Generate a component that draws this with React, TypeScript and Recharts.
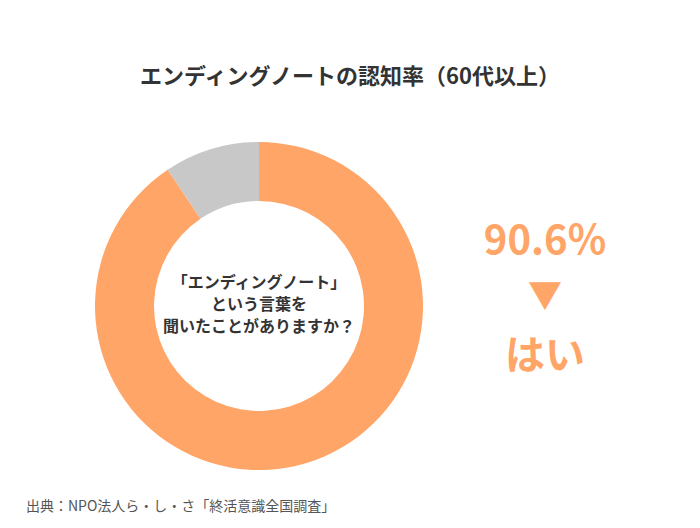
import React from "react";
import { PieChart, Pie, Cell } from "recharts";

const categories = ["はい", "いいえ"];
const values = [90.6, 9.4];
const colors = ["#FFA567", "#C8C8C8"];
const titleText = "エンディングノートの認知率（60代以上）";
const centerLines = ["「エンディングノート」", "という言葉を", "聞いたことがありますか？"];
const sourceText = "出典：NPO法人ら・し・さ「終活意識全国調査」";

const data = categories.map((name, i) => ({ name, value: values[i] }));

const font = "'Noto Sans CJK JP', 'Noto Sans', sans-serif";

export default function App() {
  return (
    <div style={{ position: "absolute", left: 0, top: 0, width: 700, height: 528, background: "#fff", fontFamily: font }}>
      <div style={{ position: "absolute", left: 0, top: 57, width: 700, textAlign: "center", fontSize: 22, fontWeight: 700, color: "#333", lineHeight: "34px" }}>
        {titleText}
      </div>
      <div style={{ position: "absolute", left: 0, top: 0 }}>
        <PieChart width={700} height={528} margin={{ top: 0, right: 0, bottom: 0, left: 0 }}>
          <Pie
            data={data}
            dataKey="value"
            nameKey="name"
            cx={259}
            cy={306}
            innerRadius={105}
            outerRadius={164}
            startAngle={90}
            endAngle={-270}
            stroke="none"
            isAnimationActive={false}
          >
            {data.map((d, i) => (
              <Cell key={d.name} fill={colors[i]} />
            ))}
          </Pie>
        </PieChart>
      </div>
      <div style={{ position: "absolute", left: 109, top: 270, width: 300, textAlign: "center", fontSize: 16, fontWeight: 700, color: "#333", lineHeight: "22px" }}>
        {centerLines.map((l) => (
          <div key={l}>{l}</div>
        ))}
      </div>
      <div style={{ position: "absolute", left: 445, top: 210, width: 200, textAlign: "center", color: colors[0], fontWeight: 700 }}>
        <div style={{ fontSize: 40, lineHeight: "54px" }}>{values[0].toFixed(1)}%</div>
        <div style={{ fontSize: 34, lineHeight: "44px", marginTop: 8 }}>▼</div>
        <div style={{ fontSize: 40, lineHeight: "60px", marginTop: 6 }}>{categories[0]}</div>
      </div>
      <div style={{ position: "absolute", left: 26, top: 494, fontSize: 14, color: "#555", lineHeight: "22px" }}>
        {sourceText}
      </div>
    </div>
  );
}
